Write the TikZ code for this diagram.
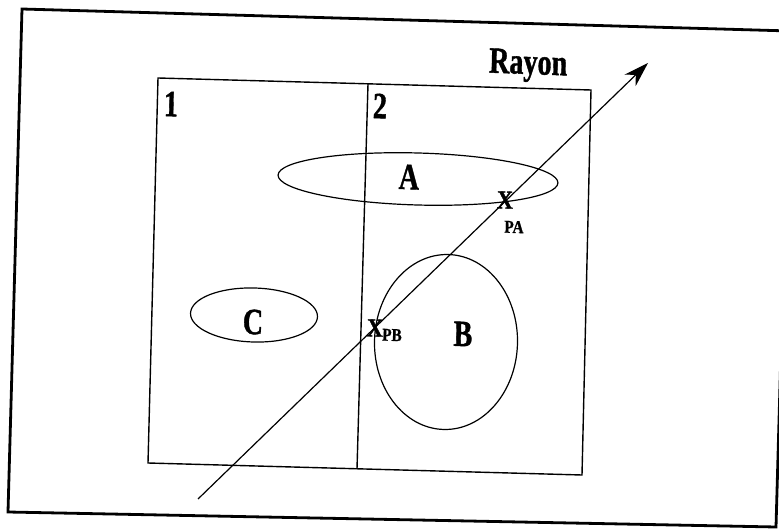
\documentclass[tikz,border=0pt]{standalone}
\usepackage{fontspec}
\setmainfont{Liberation Serif}[BoldFeatures={FakeBold=1.2}]
\usetikzlibrary{shapes.geometric,arrows.meta}
\begin{document}
\begin{tikzpicture}[x=1pt,y=-1pt,
  frameline/.style={line width=2.8pt,line join=miter},
  boxline/.style={line width=1.4pt},
  oval/.style={ellipse,draw,line width=1.2pt,inner sep=0pt,rotate=-1.6},
  bigtxt/.style={font=\fontsize{37}{37}\selectfont\bfseries,xscale=0.76,inner sep=0pt,rotate=-1.6},
  midtxt/.style={font=\fontsize{26}{26}\selectfont\bfseries,xscale=0.85,inner sep=0pt,rotate=-1.6},
  smalltxt/.style={font=\fontsize{18}{18}\selectfont\bfseries,xscale=0.85,inner sep=0pt,rotate=-1.6},
  ray/.style={line width=1.2pt,-{Stealth[length=25pt,width=16pt,inset=8pt]}}]
\useasboundingbox (0,0) rectangle (779,529);
\clip (0,0) rectangle (779,529);
% outer frame
\draw[frameline] (790,31) -- (22,9) -- (8,512) -- (776,527) -- (790,31);
% inner box and divider
\coordinate (tl) at (158,78);
\coordinate (tr) at (591,90);
\coordinate (br) at (582,475);
\coordinate (bl) at (148,463);
\coordinate (dt) at (368,84);
\coordinate (db) at (357,469);
\draw[boxline] (tl) -- (tr) -- (br) -- (bl) -- cycle;
\draw[boxline] (dt) -- (db);
% ellipses
\node[oval,minimum width=280pt,minimum height=52pt] (A) at (418,179) {};
\node[oval,minimum width=143pt,minimum height=175pt] (B) at (446,342) {};
\node[oval,minimum width=127pt,minimum height=54pt] (C) at (254,315) {};
% labels
\node[bigtxt] (l1) at (171,104) {1};
\node[bigtxt] (l2) at (380,106) {2};
\node[bigtxt,anchor=base] (rayon) at (528,74) {Rayon};
\node[bigtxt] (la) at (409,177) {A};
\node[bigtxt] (lb) at (463,334) {B};
\node[bigtxt] (lc) at (253,322) {C};
\node[midtxt] (xa) at (505,200) {X};
\node[smalltxt] (pa) at (514,227) {PA};
\node[midtxt] (xb) at (375,328) {X};
\node[smalltxt] (pb) at (392,335) {PB};
% ray
\coordinate (rs) at (198,499);
\coordinate (re) at (648,63);
\draw[ray] (rs) -- (re);
\end{tikzpicture}
\end{document}
